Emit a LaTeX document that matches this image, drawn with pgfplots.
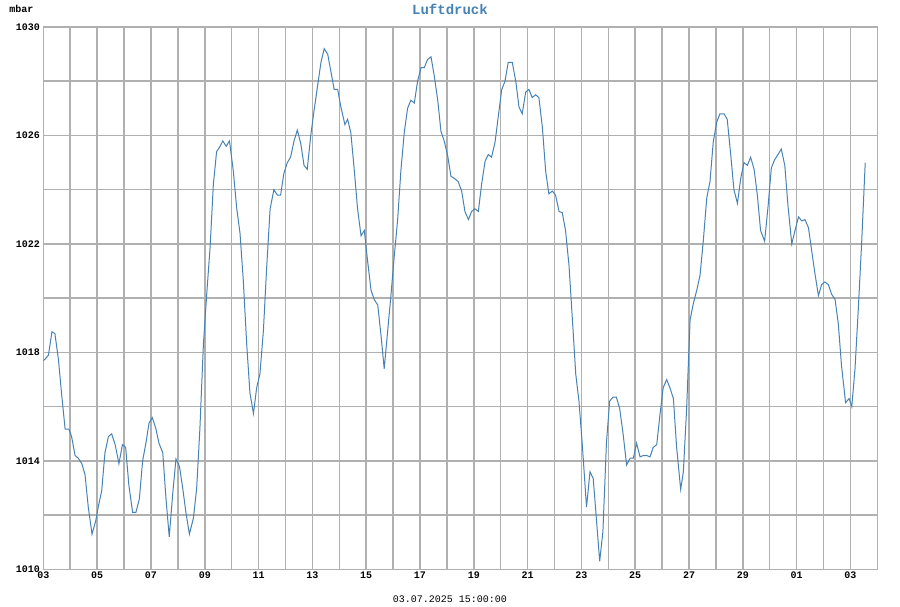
\documentclass[border=0pt]{standalone}
\usepackage{pgfplots}
\pgfplotsset{compat=1.18}
\usepackage{fontspec}
\setmainfont{Liberation Mono}
\definecolor{lineblue}{HTML}{4682B4}
\definecolor{gridgray}{HTML}{B0B0B0}
\begin{document}
\begin{tikzpicture}
\begin{axis}[
  at={(0,0)}, anchor=south west,
  scale only axis,
  width=625.5pt, height=406.8pt,
  xmin=0, xmax=31, ymin=1010, ymax=1030,
  xtick={0,2,...,30},
  xticklabels={03,05,07,09,11,13,15,17,19,21,23,25,27,29,01,03},
  minor xtick={1,3,...,29},
  ytick={1010,1014,1018,1022,1026,1030},
  minor ytick={1012,1016,1020,1024,1028},
  grid=both,
  grid style={gridgray, line width=1.15pt},
  minor grid style={gridgray, line width=1.15pt},
  axis line style={gridgray, line width=1.15pt},
  major tick length=0pt, minor tick length=0pt,
  tick style={draw=none},
  /pgf/number format/assume math mode=true,
  yticklabel style={font=\fontsize{7.5}{8}\selectfont\bfseries, /pgf/number format/1000 sep={}, xshift=1pt},
  xticklabel style={font=\fontsize{7.5}{8}\selectfont\bfseries, yshift=1.5pt},
]
\addplot[lineblue, line width=0.75pt] coordinates {
(0.00,1017.7)(0.06,1017.75)(0.19,1017.9)(0.32,1018.76)(0.43,1018.7)(0.56,1017.75)(0.68,1016.46)(0.81,1015.17)(0.95,1015.17)
(1.05,1014.9)(1.18,1014.2)(1.30,1014.1)(1.43,1013.9)(1.55,1013.49)(1.67,1012.3)(1.81,1011.3)(1.95,1011.8)
(2.04,1012.3)(2.17,1012.9)(2.29,1014.3)(2.42,1014.9)(2.54,1015.0)(2.67,1014.6)(2.81,1013.9)(2.94,1014.6)
(3.06,1014.5)(3.18,1013.1)(3.32,1012.1)(3.44,1012.1)(3.57,1012.6)(3.69,1014.0)(3.82,1014.7)(3.93,1015.4)
(4.05,1015.6)(4.18,1015.2)(4.30,1014.65)(4.44,1014.3)(4.56,1012.6)(4.68,1011.2)(4.81,1012.8)(4.93,1014.07)
(5.06,1013.8)(5.18,1013.0)(5.30,1012.1)(5.43,1011.3)(5.58,1011.9)(5.70,1013.0)(5.82,1015.2)(5.95,1018.3)
(6.07,1020.1)(6.20,1021.9)(6.32,1024.2)(6.44,1025.4)(6.57,1025.6)(6.67,1025.8)(6.80,1025.6)(6.92,1025.8)
(7.06,1024.7)(7.19,1023.3)(7.31,1022.4)(7.43,1020.7)(7.56,1018.3)(7.68,1016.5)(7.81,1015.75)(7.93,1016.7)
(8.05,1017.2)(8.18,1018.8)(8.30,1021.1)(8.43,1023.3)(8.57,1024.0)(8.70,1023.8)(8.82,1023.8)(8.94,1024.6)
(9.07,1025.0)(9.19,1025.2)(9.32,1025.8)(9.44,1026.2)(9.57,1025.7)(9.69,1024.9)(9.81,1024.75)(9.94,1026.0)
(10.06,1026.9)(10.19,1027.8)(10.32,1028.7)(10.44,1029.2)(10.57,1029.0)(10.69,1028.35)(10.81,1027.7)(10.94,1027.7)
(11.06,1027.05)(11.21,1026.4)(11.31,1026.6)(11.43,1026.1)(11.56,1024.7)(11.68,1023.3)(11.81,1022.3)(11.93,1022.5)
(12.05,1021.4)(12.18,1020.3)(12.30,1019.95)(12.43,1019.75)(12.55,1018.65)(12.67,1017.4)(12.80,1018.8)(12.92,1020.1)
(13.04,1021.5)(13.17,1022.9)(13.29,1024.7)(13.42,1026.15)(13.54,1027.0)(13.66,1027.3)(13.79,1027.2)(13.91,1028.0)
(14.04,1028.5)(14.16,1028.5)(14.28,1028.8)(14.41,1028.9)(14.53,1028.2)(14.66,1027.3)(14.78,1026.15)(14.90,1025.8)
(15.03,1025.25)(15.15,1024.5)(15.30,1024.4)(15.42,1024.3)(15.55,1023.95)(15.67,1023.2)(15.80,1022.9)(15.92,1023.2)
(16.04,1023.3)(16.17,1023.2)(16.29,1024.2)(16.42,1025.05)(16.54,1025.3)(16.66,1025.2)(16.79,1025.75)(16.91,1026.7)
(17.04,1027.7)(17.16,1028.0)(17.28,1028.7)(17.43,1028.7)(17.56,1028.0)(17.68,1027.05)(17.80,1026.8)(17.93,1027.6)
(18.05,1027.7)(18.17,1027.4)(18.30,1027.5)(18.42,1027.4)(18.55,1026.3)(18.67,1024.7)(18.79,1023.85)(18.92,1023.95)
(19.04,1023.8)(19.17,1023.2)(19.29,1023.15)(19.41,1022.5)(19.54,1021.2)(19.66,1019.3)(19.79,1017.2)(19.91,1016.2)
(20.03,1014.65)(20.19,1012.3)(20.32,1013.6)(20.44,1013.35)(20.57,1011.7)(20.68,1010.3)(20.80,1011.4)(20.93,1014.65)
(21.05,1016.2)(21.17,1016.35)(21.30,1016.35)(21.42,1015.95)(21.55,1015.0)(21.68,1013.85)(21.81,1014.1)(21.93,1014.1)
(22.05,1014.65)(22.18,1014.15)(22.30,1014.2)(22.43,1014.2)(22.55,1014.15)(22.67,1014.5)(22.80,1014.6)(22.92,1015.7)
(23.04,1016.7)(23.17,1017.0)(23.29,1016.7)(23.42,1016.3)(23.54,1014.5)(23.69,1012.95)(23.79,1013.6)(23.91,1015.9)
(24.04,1019.2)(24.16,1019.8)(24.29,1020.3)(24.41,1020.85)(24.53,1022.1)(24.66,1023.7)(24.78,1024.3)(24.90,1025.75)
(25.03,1026.5)(25.15,1026.8)(25.30,1026.8)(25.42,1026.6)(25.54,1025.4)(25.67,1024.0)(25.80,1023.5)(25.92,1024.4)
(26.04,1025.0)(26.17,1024.9)(26.29,1025.2)(26.42,1024.75)(26.54,1023.8)(26.66,1022.5)(26.81,1022.1)(26.94,1023.4)
(27.06,1024.8)(27.18,1025.1)(27.31,1025.3)(27.43,1025.5)(27.56,1024.9)(27.68,1023.4)(27.82,1022.0)(27.94,1022.5)
(28.07,1023.0)(28.19,1022.85)(28.31,1022.9)(28.44,1022.6)(28.56,1021.75)(28.69,1020.85)(28.81,1020.1)(28.93,1020.5)
(29.05,1020.6)(29.18,1020.5)(29.30,1020.15)(29.43,1019.95)(29.55,1019.05)(29.67,1017.5)(29.82,1016.15)(29.95,1016.3)
(30.05,1016.0)(30.17,1017.4)(30.29,1019.55)(30.42,1022.1)(30.55,1025.0)
};
\end{axis}
\node[font=\fontsize{10.5}{12}\selectfont\bfseries, text=lineblue] at (305pt,419.8pt) {Luftdruck};
\node[font=\fontsize{7.5}{8}\selectfont\bfseries] at (-16.4pt,420.5pt) {mbar};
\node[font=\fontsize{7.5}{8}\selectfont] at (305pt,-22pt) {03.07.2025 15:00:00};
\path[use as bounding box] (-32.5pt,-25pt) rectangle (642.5pt,425pt);
\end{tikzpicture}
\end{document}
